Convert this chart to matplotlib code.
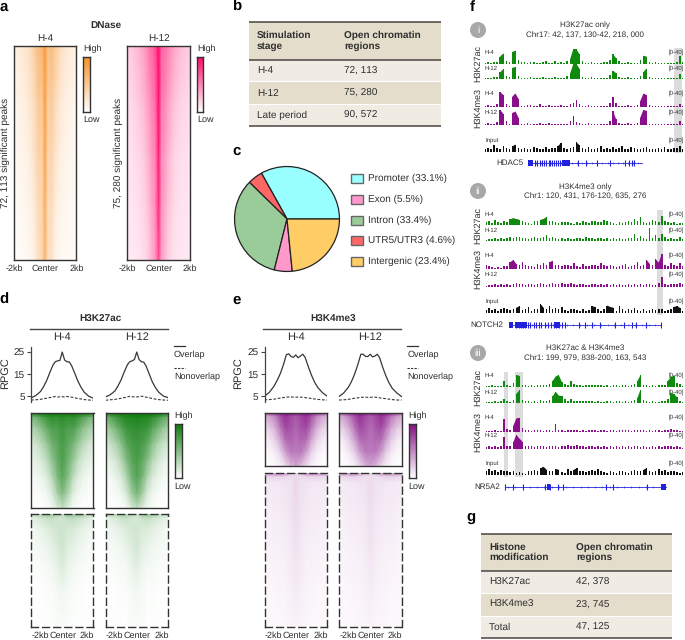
import numpy as np
import matplotlib
matplotlib.use('Agg')
import matplotlib.pyplot as plt
from matplotlib.colors import LinearSegmentedColormap
from matplotlib.patches import Rectangle, Circle

plt.rcParams['font.family'] = ['Liberation Sans', 'DejaVu Sans']
plt.rcParams['text.hinting'] = 'no_hinting'
plt.rcParams['text.hinting_factor'] = 1

W, H = 685, 640
TXT = '#2e2e2e'
LINE = '#4a4440'

# --- tables
b_header = ['Stimulation\nstage', 'Open chromatin\nregions']
b_rows = [['H-4', '72, 113'], ['H-12', '75, 280'], ['Late period', '90, 572']]
g_header = ['Histone\nmodification', 'Open chromatin\nregions']
g_rows = [['H3K27ac', '42, 378'], ['H3K4me3', '23, 745'], ['Total', '47, 125']]

# --- pie
pie_labels = ['Promoter', 'UTR5/UTR3', 'Intron', 'Exon', 'Intergenic']
pie_values = [33.1, 4.6, 33.4, 5.5, 23.4]
pie_colors = ['#99ffff', '#ff6666', '#99cc99', '#ff99cc', '#ffcc66']
legend_order = [0, 3, 2, 1, 4]

# --- profile curves (RPGC)
prof_kb = [-2, -1.7, -1.4, -1.2, -1, -.8, -.6, -.45, -.3, -.15, 0, .15, .3, .45, .6, .8, 1, 1.2, 1.4, 1.7, 2]
ac_h4_over = [4.1, 5.2, 7, 9.2, 12, 15.6, 19, 20.6, 21, 21.2, 25, 21.4, 20.6, 20.5, 18.8, 15.4, 11.8, 9, 6.8, 4.9, 4]
ac_h12_over = [4.6, 5.6, 7.3, 9.6, 12.4, 16, 19.2, 20.6, 21, 21.6, 25, 21.6, 20.6, 20.4, 18.6, 15, 11.4, 8.8, 6.8, 5, 4.3]
ac_h4_non = [3.2, 3.3, 3.5, 3.8, 4, 4.3, 4.6, 4.8, 4.6, 4.6, 4.7, 4.6, 4.8, 4.7, 4.5, 4.2, 3.9, 3.7, 3.4, 3.2, 3.1]
ac_h12_non = [3.1, 3.3, 3.5, 3.7, 4, 4.3, 4.6, 4.9, 4.7, 4.6, 4.6, 4.7, 4.9, 4.8, 4.5, 4.2, 3.9, 3.6, 3.4, 3.2, 3.1]
me_h4_over = [5, 6.6, 9.4, 12, 15, 19, 23.8, 24.2, 23, 22.6, 23.7, 22.4, 23.2, 24, 22.6, 18.4, 14.6, 11.4, 9, 6.6, 5]
me_h12_over = [4.8, 6.4, 9, 11.6, 15, 19.2, 24, 24, 23, 23, 24, 22.8, 23.2, 24, 22.4, 18, 14.2, 11, 8.6, 6.4, 4.8]
me_h4_non = [3.3, 3.4, 3.6, 3.8, 4.1, 4.3, 4.5, 4.6, 4.6, 4.5, 4.5, 4.5, 4.5, 4.5, 4.3, 4.1, 3.9, 3.7, 3.5, 3.3, 3.2]
me_h12_non = [3.2, 3.3, 3.5, 3.8, 4, 4.2, 4.4, 4.5, 4.5, 4.4, 4.4, 4.5, 4.5, 4.4, 4.2, 4, 3.8, 3.6, 3.4, 3.2, 3.2]

# --- heatmaps, coarse intensities read by eye (rows top to bottom, -2kb to 2kb)
dnase_depth = [0, .25, .5, .75, 1]
dnase_h4 = [
    [.14, .16, .18, .2, .24, .3, .38, .5, .62, .66, .9, .56, .62, .52, .42, .32, .26, .2, .17, .15, .13],
    [.09, .1, .12, .14, .17, .22, .28, .38, .5, .48, .85, .42, .48, .38, .28, .2, .16, .13, .11, .1, .09],
    [.06, .07, .08, .1, .12, .16, .22, .32, .42, .4, .8, .36, .4, .3, .2, .15, .11, .09, .08, .07, .07],
    [.05, .05, .06, .07, .09, .11, .15, .24, .34, .36, .72, .3, .34, .2, .13, .1, .08, .07, .06, .06, .06],
    [.03, .03, .04, .04, .05, .07, .1, .18, .3, .36, .66, .3, .28, .14, .08, .06, .05, .05, .05, .05, .05],
]
dnase_h12 = [
    [.2, .22, .25, .28, .32, .38, .44, .55, .62, .72, 1, .62, .6, .52, .44, .38, .32, .28, .25, .23, .22],
    [.14, .15, .17, .2, .24, .28, .34, .42, .52, .6, 1, .52, .5, .4, .32, .26, .22, .19, .17, .15, .15],
    [.11, .12, .13, .15, .17, .2, .26, .34, .44, .5, .95, .46, .42, .32, .24, .19, .16, .14, .13, .12, .12],
    [.1, .1, .11, .12, .14, .17, .2, .28, .38, .46, .88, .42, .36, .26, .19, .15, .13, .12, .11, .11, .11],
    [.09, .09, .09, .1, .11, .13, .16, .22, .32, .42, .76, .38, .3, .2, .14, .12, .11, .1, .1, .1, .1],
]
ac_top_depth = [0, .05, .16, .32, .5, .68, .85, 1]
ac_top_h4 = [
    [.9, .95, 1, 1, 1, 1, 1, 1, 1, 1, 1, .95, .9],
    [.5, .58, .68, .78, .84, .82, .86, .82, .84, .78, .68, .58, .5],
    [.3, .38, .48, .62, .72, .72, .78, .72, .72, .62, .48, .38, .3],
    [.16, .21, .29, .42, .58, .66, .74, .66, .58, .42, .29, .21, .16],
    [.08, .11, .16, .26, .44, .6, .72, .6, .44, .26, .16, .11, .08],
    [.03, .05, .08, .14, .28, .5, .66, .5, .28, .14, .08, .05, .03],
    [.01, .02, .03, .06, .14, .34, .5, .34, .14, .06, .03, .02, .01],
    [0, .01, .01, .02, .05, .14, .24, .14, .05, .02, .01, .01, 0],
]
ac_top_h12 = [
    [.9, .95, 1, 1, 1, 1, 1, 1, 1, 1, 1, .95, .9],
    [.56, .66, .76, .84, .9, .9, .92, .9, .9, .84, .76, .66, .56],
    [.34, .44, .56, .68, .8, .82, .84, .82, .8, .68, .56, .44, .34],
    [.18, .24, .33, .48, .66, .74, .78, .74, .66, .48, .33, .24, .18],
    [.08, .12, .18, .3, .5, .66, .74, .66, .5, .3, .18, .12, .08],
    [.03, .05, .09, .16, .32, .56, .68, .56, .32, .16, .09, .05, .03],
    [.01, .02, .03, .07, .16, .38, .54, .38, .16, .07, .03, .02, .01],
    [0, .01, .01, .02, .05, .16, .26, .16, .05, .02, .01, .01, 0],
]
ac_bot_depth = [0, .04, .12, .28, .45, .65, 1]
ac_bot_h4 = [
    [.22, .28, .36, .42, .42, .3, .26, .4, .46, .44, .36, .28, .22],
    [.12, .14, .18, .22, .24, .2, .18, .24, .26, .22, .18, .14, .12],
    [.06, .08, .1, .13, .17, .2, .2, .18, .17, .13, .1, .08, .06],
    [.03, .04, .06, .08, .11, .16, .2, .14, .11, .08, .06, .04, .03],
    [.02, .02, .03, .04, .06, .1, .15, .09, .06, .04, .03, .02, .02],
    [.01, .01, .01, .02, .03, .05, .07, .05, .03, .02, .01, .01, .01],
    [0, 0, .01, .01, .01, .02, .02, .02, .01, .01, .01, 0, 0],
]
ac_bot_h12 = [
    [.2, .25, .32, .38, .38, .26, .24, .36, .42, .4, .32, .25, .2],
    [.1, .13, .16, .2, .22, .18, .16, .22, .24, .2, .16, .13, .1],
    [.05, .07, .09, .12, .15, .18, .19, .16, .15, .12, .09, .07, .05],
    [.03, .04, .05, .07, .1, .14, .18, .12, .1, .07, .05, .04, .03],
    [.02, .02, .03, .04, .05, .09, .13, .08, .05, .04, .03, .02, .02],
    [.01, .01, .01, .02, .02, .04, .06, .04, .02, .02, .01, .01, .01],
    [0, 0, .01, .01, .01, .02, .02, .02, .01, .01, .01, 0, 0],
]
me_top_depth = [0, .08, .3, .52, .75, 1]
me_top_h4 = [
    [.7, .78, .85, .95, 1, 1, .95, 1, 1, .95, .85, .78, .7],
    [.3, .38, .5, .7, .84, .76, .68, .76, .84, .7, .5, .38, .3],
    [.14, .2, .32, .54, .74, .7, .62, .7, .74, .54, .32, .2, .14],
    [.06, .1, .18, .36, .6, .64, .58, .64, .6, .36, .18, .1, .06],
    [.02, .04, .08, .18, .38, .54, .54, .54, .38, .18, .08, .04, .02],
    [0, .01, .02, .05, .14, .28, .36, .28, .14, .05, .02, .01, 0],
]
me_top_h12 = [
    [.7, .78, .88, .95, 1, .95, .9, .95, 1, .95, .88, .78, .7],
    [.32, .4, .54, .72, .84, .74, .66, .74, .84, .72, .54, .4, .32],
    [.15, .22, .34, .56, .74, .68, .6, .68, .74, .56, .34, .22, .15],
    [.06, .1, .2, .38, .6, .62, .56, .62, .6, .38, .2, .1, .06],
    [.02, .04, .09, .2, .4, .54, .54, .54, .4, .2, .09, .04, .02],
    [0, .01, .02, .06, .16, .3, .38, .3, .16, .06, .02, .01, 0],
]
me_bot_depth = [0, .025, .06, .25, .5, .75, 1]
me_bot_h4 = [
    [.44, .48, .52, .52, .46, .22, .18, .26, .5, .5, .5, .46, .42],
    [.16, .17, .18, .18, .16, .14, .16, .14, .17, .18, .18, .17, .15],
    [.09, .09, .1, .1, .11, .12, .17, .12, .11, .1, .1, .09, .09],
    [.07, .07, .08, .08, .09, .11, .15, .11, .09, .08, .08, .07, .07],
    [.05, .05, .06, .06, .07, .09, .12, .09, .07, .06, .06, .05, .05],
    [.04, .04, .04, .05, .05, .07, .09, .07, .05, .05, .04, .04, .04],
    [.03, .03, .03, .03, .04, .04, .05, .04, .04, .03, .03, .03, .03],
]
me_bot_h12 = [
    [.44, .48, .52, .52, .42, .2, .16, .24, .48, .5, .5, .46, .42],
    [.15, .16, .18, .18, .15, .13, .14, .13, .16, .18, .18, .17, .15],
    [.09, .09, .1, .1, .11, .12, .16, .12, .11, .1, .1, .09, .09],
    [.07, .07, .08, .08, .09, .1, .14, .1, .09, .08, .08, .07, .07],
    [.05, .05, .06, .06, .07, .08, .11, .08, .07, .06, .06, .05, .05],
    [.04, .04, .04, .05, .05, .06, .08, .06, .05, .05, .04, .04, .04],
    [.03, .03, .03, .03, .04, .04, .05, .04, .04, .03, .03, .03, .03],
]

# --- browser tracks, 66 bins across the locus, scale 0-40
i_ac_h4 = [3,6,3,6,5,20,28,8,5,32, 36,12,5,6,3,6,5,4,3,6, 7,3,4,7,4,5,4,8,14,40,
           40,26,8,4,3,6,3,4,3,6, 5,12,26,16,7,4,3,6,3,4, 3,11,22,20,5,3,6,3,2,3, 4,3,3,5,22,5]
i_ac_h12 = [2,4,3,5,5,18,26,9,5,30, 32,9,4,3,3,6,4,3,3,5, 3,3,4,6,3,4,4,8,16,40,
            40,28,6,3,3,5,3,4,3,3, 4,11,22,16,6,3,3,5,3,3, 3,9,18,28,5,3,3,3,2,3, 3,3,3,4,13,4]
i_me_h4 = [3,5,3,4,8,40,32,8,4,28, 36,22,4,3,6,5,3,4,7,3, 3,6,3,3,3,5,3,3,8,12,
           20,7,3,3,5,3,3,4,3,3, 4,10,26,12,4,3,3,5,3,3, 5,16,36,32,5,3,3,3,3,2, 3,3,3,4,9,4]
i_me_h12 = [3,5,3,4,9,40,30,10,4,32, 36,20,4,3,6,4,3,3,5,3, 3,5,3,4,3,3,3,3,11,24,
            9,5,3,3,5,3,3,3,4,3, 4,12,38,16,5,3,3,5,3,3, 6,20,40,38,4,3,3,3,3,2, 3,3,3,4,10,4]
i_in = [8,12,9,18,10,7,16,12,9,15, 20,11,8,12,7,9,14,10,8,7, 13,9,12,10,16,24,10,7,10,13, 26,18,10,8,13,7,9,11,15,9, 10,7,13,9,11,17,9,7,13,11, 9,7,11,14,9,7,9,12,8,13, 9,7,11,12,16,9]

ii_ac_h4 = [7,11,5,14,9,6,10,9,15,18, 16,14,11,9,5,4,12,11,14,16, 22,10,12,7,5,7,9,7,5,4, 7,5,11,9,5,12,11,9,7,14, 11,9,5,4,7,5,9,11,7,17, 12,22,7,5,9,14,11,7,24,11, 9,5,7,4,5,5]
ii_ac_h12 = [4,5,5,9,5,7,5,9,10,9, 12,10,9,7,5,7,11,7,9,12, 15,9,10,7,5,7,5,9,5,5, 9,7,5,10,7,9,5,7,9,5, 7,5,7,5,9,5,5,7,9,20, 7,14,9,5,34,7,16,9,20,10, 5,7,5,5,10,5]
ii_me_h4 = [10,9,5,4,5,4,9,7,18,24, 14,12,20,10,9,7,5,14,12,16, 10,18,22,12,10,7,12,10,9,16, 7,5,14,7,9,10,12,9,16,10, 7,10,7,5,9,10,14,5,7,12, 20,9,10,24,14,10,26,17,40,10, 7,16,12,7,16,7]
ii_me_h12 = [4,5,5,9,5,7,5,9,5,7, 10,9,7,5,9,7,5,9,10,7, 5,9,10,7,9,10,7,9,10,7, 5,9,7,5,5,7,7,5,9,5, 7,5,9,5,7,5,5,7,5,9, 5,7,5,9,7,5,5,10,26,7, 5,9,9,7,10,7]
ii_in = [9,14,8,12,6,10,14,10,8,12, 14,18,8,10,16,6,10,12,24,14, 12,18,10,14,12,16,8,6,10,12, 8,6,10,6,8,18,16,12,6,10, 20,16,14,6,18,10,6,12,8,14, 8,6,10,6,8,10,8,12,10,6, 8,12,16,18,14,6]

iii_ac_h4 = [3,3,5,3,3,3,16,6,3,10, 32,30,6,5,3,5,3,5,6,5, 5,9,16,28,32,14,7,6,16,7, 6,5,3,5,5,6,5,6,5,3, 5,3,5,5,3,5,6,3,5,8, 16,32,6,5,3,5,3,5,5,5, 16,26,30,12,7,3]
iii_ac_h12 = [3,3,3,5,3,5,12,6,3,9, 24,34,8,5,5,3,5,3,7,5, 5,8,18,30,20,18,10,6,12,6, 5,5,5,6,5,5,3,5,3,3, 5,5,3,5,5,3,5,3,5,7, 14,36,7,5,3,5,3,3,5,5, 10,28,24,16,6,3]
iii_me_h4 = [3,3,3,5,3,3,34,7,5,16, 36,38,10,5,5,3,5,6,5,3, 5,5,3,22,6,5,3,5,6,5, 5,3,5,3,5,5,5,3,5,5, 3,5,5,3,5,5,6,5,3,5, 6,5,5,3,5,3,5,5,3,6, 6,7,5,5,3,3]
iii_me_h12 = [5,7,5,7,5,7,32,9,7,18, 38,28,20,7,8,7,5,7,8,7, 5,7,8,7,5,7,8,10,7,8, 11,8,7,5,7,8,5,7,5,7, 5,7,5,8,5,7,5,7,5,8, 7,5,7,5,5,7,5,7,5,8, 7,7,5,7,5,4]
iii_in = [10,16,12,14,8,14,10,12,8,10, 6,8,6,4,10,12,14,12,18,22, 14,12,10,16,14,8,6,16,10,14, 18,12,10,8,12,14,10,16,10,8, 6,10,8,6,10,12,8,6,10,14, 12,10,14,18,10,8,12,16,10,14, 8,12,10,8,6,8]

# --- gene models, 0-100 along each gene
hdac5_exons = [6, 8, 10, 12, 14, 16, 18, 19, 21, 22.5, 24, 26.5, 28, 44, 51, 60, 72, 85, 88, 91, 93]
hdac5_thick = [(0, 4), (30, 7)]
notch2_exons = [5, 6.5, 8, 9.5, 11, 12.5, 14, 16.5, 18, 20, 21.5, 24, 26, 28, 29.5, 31, 33, 35, 37, 46, 50, 55, 60, 70, 76, 81, 84, 90, 100]
notch2_thick = [(0, 3), (30, 4), (4, 8)]
nr5a2_exons = [0, 5, 11, 25, 28, 33, 36, 63, 67, 88]
nr5a2_thick = [(26, 2), (97, 3)]

orange_cm = LinearSegmentedColormap.from_list('o', ['#ffffff', '#f7922c'])
pink_cm = LinearSegmentedColormap.from_list('p', ['#ffffff', '#ff0a6c'])
green_cm = LinearSegmentedColormap.from_list('g', ['#ffffff', '#0a7a0a'])
purple_cm = LinearSegmentedColormap.from_list('m', ['#ffffff', '#830d83'])

fig = plt.figure(figsize=(W / 100, H / 100), dpi=100, facecolor='white')
bg = fig.add_axes([0, 0, 1, 1])
bg.set_xlim(0, W)
bg.set_ylim(H, 0)
bg.axis('off')


def px_axes(x0, y0, x1, y1):
    ax = fig.add_axes([x0 / W, 1 - y1 / H, (x1 - x0) / W, (y1 - y0) / H])
    ax.patch.set_alpha(0)
    return ax


def put(x, y, s, size=7, ha='center', weight='normal', rot=0, color=TXT, **kw):
    bg.text(x, y, s, fontsize=size, ha=ha, va='center', fontweight=weight, rotation=rot, color=color, **kw)


def heat(box, rows, depth, cmap, dashed=False):
    ax = px_axes(*box)
    z = np.array(rows)
    ax.pcolormesh(np.linspace(-2, 2, z.shape[1]), depth, z,
                  cmap=cmap, vmin=0, vmax=1, shading='gouraud', rasterized=True)
    ax.set_ylim(1, 0)
    ax.set_xticks([])
    ax.set_yticks([])
    for s in ax.spines.values():
        s.set_color('#333333')
        s.set_linewidth(1)
        if dashed:
            s.set_linestyle((0, (5, 3)))
    return ax


def colorbar(x0, x1, y0, y1, cmap, hi_y, lo_y):
    ax = px_axes(x0, y0, x1, y1)
    ax.imshow(np.linspace(1, 0, 100)[:, None], cmap=cmap, aspect='auto', vmin=0, vmax=1)
    ax.set_xticks([])
    ax.set_yticks([])
    for s in ax.spines.values():
        s.set_color('#333333')
        s.set_linewidth(1)
    put(x0, hi_y, 'High', size=6.5, ha='left')
    put(x0, lo_y, 'Low', size=6.5, ha='left')


def table(x0, x1, col2, ys, header, rows):
    # ys: top, header bottom, then (top, bottom) of each row
    bg.add_patch(Rectangle((x0, ys[0]), x1 - x0, ys[1] - ys[0], fc='#e4ddcc', ec='none'))
    fills = ['#f0ece4', '#e4ddcc', '#f0ece4']
    hy = (ys[0] + ys[1]) / 2
    put(x0 + 8, hy, header[0], size=7.2, ha='left', weight='bold', linespacing=1.15)
    put(col2, hy, header[1], size=7.2, ha='left', weight='bold', linespacing=1.15)
    for row, fc, (t, b) in zip(rows, fills, ys[2:]):
        bg.add_patch(Rectangle((x0, t), x1 - x0, b - t, fc=fc, ec='none'))
        put(x0 + 8, (t + b) / 2, row[0], size=7.2, ha='left')
        put(col2, (t + b) / 2, row[1], size=7.2, ha='left')
    for y in (ys[0], ys[1], ys[-1][1]):
        bg.plot([x0, x1], [y, y], color=LINE, lw=1.1, solid_capstyle='butt')


def profile(x0, x1, over, non, show_axis):
    ax = px_axes(x0, 347, x1, 402)
    ax.plot(prof_kb, over, color='#3a3634', lw=0.9)
    ax.plot(prof_kb, non, color='#3a3634', lw=0.8, ls=(0, (2.5, 1.5)))
    ax.set_xlim(-2, 2)
    ax.set_ylim(2.3, 27.3)
    for k in ('top', 'right', 'bottom'):
        ax.spines[k].set_visible(False)
    ax.set_xticks([])
    if show_axis:
        ax.spines['left'].set_color('#4a4440')
        ax.spines['left'].set_linewidth(0.9)
        ax.set_yticks([5, 15, 25])
        ax.tick_params(axis='y', labelsize=7.4, length=3, width=0.8, color='#4a4440', pad=1.5, labelcolor=TXT)
    else:
        ax.spines['left'].set_visible(False)
        ax.set_yticks([])


def track(vals, color, x0, x1, base, h=15):
    ax = px_axes(x0, base - h, x1, base)
    xs = np.arange(len(vals))
    v = np.array(vals)
    # thin bars keep the noise spiky, real peaks get filled in underneath
    ax.bar(xs, v, width=0.5, color=color, lw=0)
    ax.fill_between(xs, v, where=v >= 14, color=color, lw=0)
    ax.plot([0, len(vals) - 1], [0.8, 0.8], color=color, lw=0.5)
    ax.set_xlim(0, len(vals) - 1)
    ax.set_ylim(0, 40)
    ax.axis('off')


def gene(x0, x1, y, exons, thick):
    ax = px_axes(x0, y - 4, x1, y + 4)
    blue = '#2222dd'
    ax.plot([0, 100], [0, 0], color=blue, lw=0.6)
    ax.vlines(np.arange(2, 100, 4.5), -.25, .25, color=blue, lw=0.4)
    ax.vlines(exons, -.7, .7, color=blue, lw=0.8)
    ax.broken_barh(thick, (-.8, 1.6), color=blue, lw=0)
    ax.set_xlim(-0.5, 100.5)
    ax.set_ylim(-1, 1)
    ax.axis('off')


# panel letters
for s, x, y in [('a', 4, 7), ('b', 237, 7), ('c', 237, 151), ('d', 4, 300),
                ('e', 237, 300), ('f', 472, 7), ('g', 471, 517)]:
    put(x, y, s, size=10.5, weight='bold', color='black')

# a
put(106, 25, 'DNase', weight='bold')
put(45, 38, 'H-4', size=7.3)
put(159, 38, 'H-12', size=7.3)
heat((14, 46, 76, 260), dnase_h4, dnase_depth, orange_cm)
heat((127, 46, 190, 260), dnase_h12, dnase_depth, pink_cm)
put(5, 153, '72, 113 significant peaks', rot=90)
put(118, 153, '75, 280 significant peaks', rot=90)
colorbar(83, 90, 57, 112, orange_cm, 49, 120)
colorbar(197, 203, 57, 112, pink_cm, 49, 120)
for off in (0, 113.5):
    put(14 + off, 269, '-2kb', size=6.8)
    put(45.5 + off, 269, 'Center', size=6.8)
    put(76.5 + off, 269, '2kb', size=6.8)

# b
table(249, 441, 344.5, [22, 60, (60.5, 81), (82, 104), (105, 126)], b_header, b_rows)

# c
pie_ax = px_axes(234, 166, 340, 272)
pie_ax.pie(pie_values, colors=pie_colors, startangle=0, counterclock=True, radius=1,
           wedgeprops=dict(edgecolor='#222222', linewidth=0.9))
pie_ax.set_xlim(-1.01, 1.01)
pie_ax.set_ylim(-1.01, 1.01)
for row, i in enumerate(legend_order):
    y = [178.5, 199, 220, 240.5, 261][row]
    bg.add_patch(Rectangle((351, y - 4.5), 12, 9, fc=pie_colors[i], ec='#666666', lw=1))
    put(368.5, y, f'{pie_labels[i]} ({pie_values[i]}%)', size=7, ha='left')

# d and e
for x_off, name, h4_over, h12_over, h4_non, h12_non in [
        (0, 'H3K27ac', ac_h4_over, ac_h12_over, ac_h4_non, ac_h12_non),
        (233.5, 'H3K4me3', me_h4_over, me_h12_over, me_h4_non, me_h12_non)]:
    x1a, x1b, x2a, x2b = 31 + x_off, 93.5 + x_off, 105.5 + x_off, 168 + x_off
    put((x1a + x2b) / 2 + 0.5, 319, name, weight='bold')
    bg.plot([x1a - 1, x2b], [328.5, 328.5], color=LINE, lw=1)
    put((x1a + x1b) / 2, 337.5, 'H-4', size=7.6)
    put((x2a + x2b) / 2, 337.5, 'H-12', size=7.6)
    put(5 + x_off, 373, 'RPGC', size=7.6, rot=90)
    profile(x1a, x1b, h4_over, h4_non, True)
    profile(x2a, x2b, h12_over, h12_non, False)
    bg.plot([x2b + 6, x2b + 17], [346, 346], color='#333333', lw=0.9)
    bg.plot([x2b + 6, x2b + 17], [368, 368], color='#333333', lw=0.8, ls=(0, (2, 1.2)))
    put(x2b + 6, 354.5, 'Overlap', size=6.5, ha='left')
    put(x2b + 6, 377, 'Nonoverlap', size=6.5, ha='left')
    for x in (x1a, x2a):
        put(x + 9, 636, '-2kb', size=6.8)
        put(x + 32, 636, 'Center', size=6.8)
        put(x + 56, 636, '2kb', size=6.8)

heat((31, 413, 93.5, 508), ac_top_h4, ac_top_depth, green_cm)
heat((105.5, 413, 168, 508), ac_top_h12, ac_top_depth, green_cm)
heat((31, 514, 93.5, 627), ac_bot_h4, ac_bot_depth, green_cm, dashed=True)
heat((105.5, 514, 168, 627), ac_bot_h12, ac_bot_depth, green_cm, dashed=True)
heat((264.5, 412.5, 327, 466), me_top_h4, me_top_depth, purple_cm)
heat((339, 412.5, 402, 466), me_top_h12, me_top_depth, purple_cm)
heat((264.5, 473, 327, 627), me_bot_h4, me_bot_depth, purple_cm, dashed=True)
heat((339, 473, 402, 627), me_bot_h12, me_bot_depth, purple_cm, dashed=True)
for x, y, s in [(88, 501, '40, 186'), (163, 501, '39, 824'), (88, 620, '50, 386'), (163, 620, '50, 748'),
                (323, 460, '22, 654'), (398, 460, '22, 010'), (323, 620, '67, 918'), (398, 620, '68, 562')]:
    put(x, y, s, size=6.8, ha='right')
colorbar(174.5, 182, 423.5, 478, green_cm, 416, 487)
colorbar(408.5, 416, 423.5, 478, purple_cm, 416, 487)

# f
GREEN, PURPLE, BLACK = '#0f8a0f', '#8a0f8a', '#111111'
panels = [
    dict(tag='i', cy=30, title=['H3K27ac only', 'Chr17: 42, 137, 130-42, 218, 000'], ty=(25, 35), tx=585,
         x0=485, bases=(64, 79, 107, 125, 152), labs=(52, 68, 93, 112, 140), side=(64, 108),
         bands=[(674, 682, 48, 153)], data=(i_ac_h4, i_ac_h12, i_me_h4, i_me_h12, i_in),
         gname='HDAC5', gy=163, gx=(527.5, 643), gr=523, exons=hdac5_exons, thick=hdac5_thick),
    dict(tag='ii', cy=191, title=['H3K4me3 only', 'Chr1: 120, 431, 176-120, 635, 276'], ty=(187, 196), tx=585,
         x0=486, bases=(225, 241, 269, 287, 313), labs=(214, 230, 255, 274, 301), side=(225, 269),
         bands=[(657, 663, 210, 315)], data=(ii_ac_h4, ii_ac_h12, ii_me_h4, ii_me_h12, ii_in),
         gname='NOTCH2', gy=325, gx=(508, 661.5), gr=503, exons=notch2_exons, thick=notch2_thick),
    dict(tag='iii', cy=353, title=['H3K27ac & H3K4me3', 'Chr1: 199, 979, 838-200, 163, 543'], ty=(348, 358), tx=585,
         x0=486, bases=(387, 403, 432, 449, 475), labs=(375, 392, 417, 435, 463), side=(387, 432),
         bands=[(504, 508, 372, 477), (515, 523, 372, 477)], data=(iii_ac_h4, iii_ac_h12, iii_me_h4, iii_me_h12, iii_in),
         gname='NR5A2', gy=487, gx=(504, 667), gr=500, exons=nr5a2_exons, thick=nr5a2_thick),
]
track_names = ['H-4', 'H-12', 'H-4', 'H-12', 'Input']
track_cols = [GREEN, GREEN, PURPLE, PURPLE, BLACK]
for p in panels:
    bg.add_patch(Circle((478, p['cy']), 8, fc='#a8a8a8', ec='none'))
    put(478, p['cy'], p['tag'], size=7, color='white')
    put(p['tx'], p['ty'][0], p['title'][0], size=5.9)
    put(p['tx'], p['ty'][1], p['title'][1], size=5.9)
    for x0, x1, y0, y1 in p['bands']:
        bg.add_patch(Rectangle((x0, y0), x1 - x0, y1 - y0, fc='#dcdcdc', ec='none'))
    put(477.5, p['side'][0], 'H3K27ac', size=6.2, rot=90)
    put(477.5, p['side'][1], 'H3K4me3', size=6.2, rot=90)
    for vals, col, base, lab, nm in zip(p['data'], track_cols, p['bases'], p['labs'], track_names):
        track(vals, col, p['x0'], 683, base)
        put(485, lab, nm, size=4.6, ha='left')
        put(684, lab, '[0-40]', size=4.6, ha='right')
    put(p['gr'], p['gy'], p['gname'], size=6, ha='right')
    gene(p['gx'][0], p['gx'][1], p['gy'], p['exons'], p['thick'])

# g
table(481, 672, 576, [533.5, 571, (571.5, 593), (594, 615.5), (617, 638)], g_header, g_rows)

fig.savefig('out.png', dpi=100)
